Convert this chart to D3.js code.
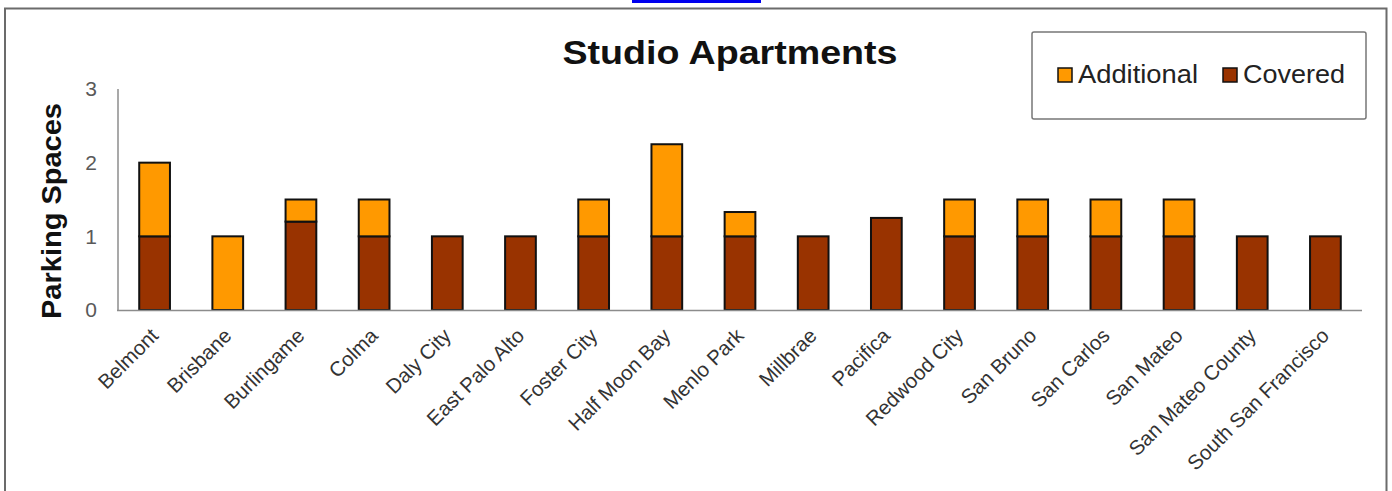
<!DOCTYPE html>
<meta charset="utf-8">
<body style="margin:0;background:#fff">
<script src="https://d3js.org/d3.v7.min.js"></script>
<script>
var cities = ["Belmont","Brisbane","Burlingame","Colma","Daly City","East Palo Alto","Foster City","Half Moon Bay","Menlo Park","Millbrae","Pacifica","Redwood City","San Bruno","San Carlos","San Mateo","San Mateo County","South San Francisco"];
var covered    = [1, 0, 1.2, 1, 1, 1, 1, 1, 1, 1, 1.25, 1, 1, 1, 1, 1, 1];
var additional = [1, 1, 0.3, 0.5, 0, 0, 0.5, 1.25, 0.33, 0, 0, 0.5, 0.5, 0.5, 0.5, 0, 0];
var seriesNames = ["Additional", "Covered"];
var yTicks = [0, 1, 2, 3];

var W = 1392, H = 491;
var svg = d3.select("body").append("svg").attr("width", W).attr("height", H)
  .style("font-family", "'Liberation Sans', Arial, sans-serif");

// link underline at top
svg.append("rect").attr("x", 632).attr("y", 0).attr("width", 129).attr("height", 3).attr("fill", "#0000ee");
// outer frame
svg.append("path").attr("d", "M5,495 V8.5 H1386.5 V495").attr("fill", "none").attr("stroke", "#6b6b6b").attr("stroke-width", 2);

var x = d3.scaleBand().domain(cities).range([118, 1362]).paddingInner(0.58).paddingOuter(0.29);
var y = d3.scaleLinear().domain([0, 3]).range([310, 89]);
var colors = {Covered: "#993300", Additional: "#ff9900"};

var rows = cities.map(function(c, i){ return {city: c, Covered: covered[i], Additional: additional[i]}; });
var stack = d3.stack().keys(["Covered", "Additional"])(rows);

svg.selectAll("g.series").data(stack).enter().append("g")
  .attr("fill", function(d){ return colors[d.key]; })
  .selectAll("rect").data(function(d){ return d.filter(function(v){ return v[1] - v[0] > 0; }); })
  .enter().append("rect")
  .attr("x", function(d){ return x(d.data.city); })
  .attr("width", x.bandwidth())
  .attr("y", function(d){ return y(d[1]); })
  .attr("height", function(d){ return y(d[0]) - y(d[1]); })
  .attr("stroke", "#111").attr("stroke-width", 2);

// axes
svg.append("line").attr("x1", 118).attr("x2", 118).attr("y1", y(3)).attr("y2", y(0)).attr("stroke", "#8c8c8c").attr("stroke-width", 1.5);
svg.append("line").attr("x1", 117).attr("x2", 1362).attr("y1", y(0) + 0.5).attr("y2", y(0) + 0.5).attr("stroke", "#8c8c8c").attr("stroke-width", 1.5);

svg.selectAll("text.yt").data(yTicks).enter().append("text")
  .attr("x", 97).attr("y", function(d){ return y(d); }).attr("dy", "0.35em")
  .attr("text-anchor", "end").attr("font-size", 21).attr("fill", "#595959")
  .text(function(d){ return d; });

svg.selectAll("text.xt").data(cities).enter().append("text")
  .attr("text-anchor", "end").attr("font-size", 20.5).attr("fill", "#333")
  .attr("transform", function(d){ return "translate(" + (x(d) + x.bandwidth() / 2 + 5) + ",337) rotate(-45)"; })
  .text(function(d){ return d; });

svg.append("text").attr("transform", "translate(61,211) rotate(-90)")
  .attr("text-anchor", "middle").attr("font-size", 27).attr("font-weight", "bold").attr("fill", "#111")
  .attr("textLength", 216).attr("lengthAdjust", "spacingAndGlyphs")
  .text("Parking Spaces");

svg.append("text").attr("x", 730).attr("y", 64).attr("text-anchor", "middle")
  .attr("font-size", 34).attr("font-weight", "bold").attr("fill", "#111")
  .attr("textLength", 335).attr("lengthAdjust", "spacingAndGlyphs").text("Studio Apartments");

// legend
var lg = svg.append("g");
lg.append("rect").attr("x", 1032).attr("y", 32).attr("width", 334).attr("height", 87)
  .attr("fill", "#fff").attr("stroke", "#777").attr("stroke-width", 1.5).attr("rx", 2);
var lx = [1058, 1223];
var lw = [120, 102];
var items = lg.selectAll("g").data(seriesNames).enter().append("g")
  .attr("transform", function(d, i){ return "translate(" + lx[i] + ",68)"; });
items.append("rect").attr("width", 14).attr("height", 14)
  .attr("fill", function(d){ return colors[d]; }).attr("stroke", "#111").attr("stroke-width", 1.5);
items.append("text").attr("x", 20).attr("y", 15)
  .attr("font-size", 26).attr("fill", "#222")
  .attr("textLength", function(d, i){ return lw[i]; }).attr("lengthAdjust", "spacingAndGlyphs")
  .text(function(d){ return d; });
</script>
</body>
